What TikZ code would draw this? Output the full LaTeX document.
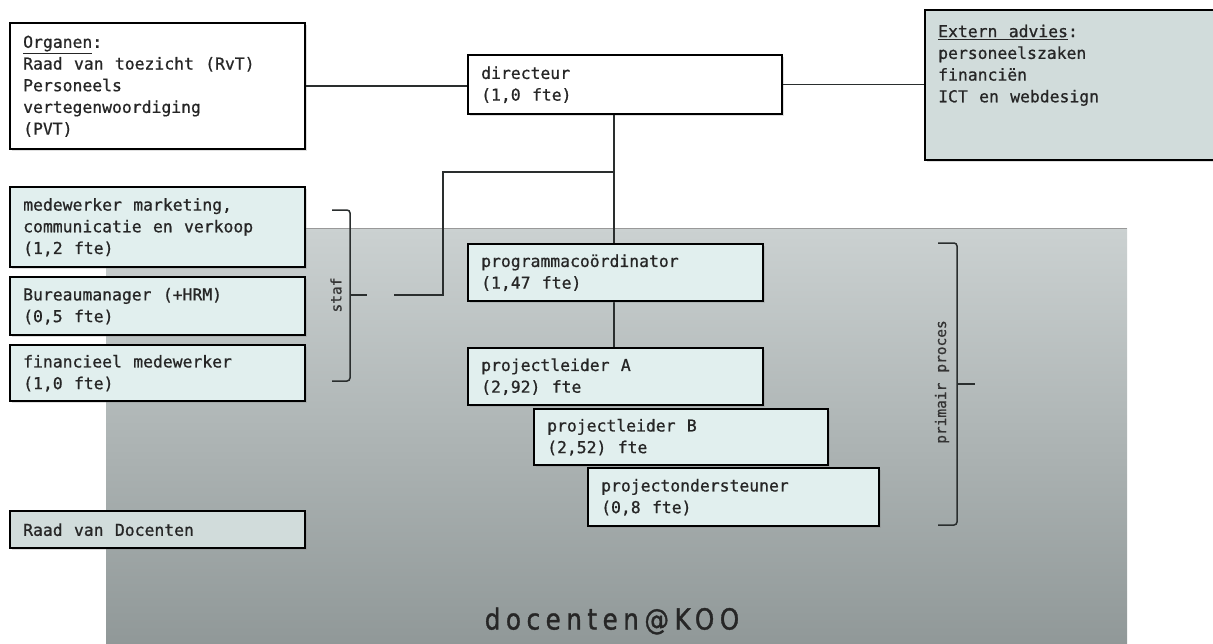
\documentclass[tikz,border=0pt]{standalone}
\usepackage{fontspec}
\usetikzlibrary{shadows}
\newfontfamily\monofont[FakeBold=0.8]{DejaVu Sans Mono}
\newfontfamily\koofont[LetterSpace=19,FakeStretch=0.85,FakeBold=1.2]{DejaVu Sans}
\newcommand{\ws}{\hspace{0.69em}}
\definecolor{bgtop}{HTML}{CBD1D1}
\definecolor{bgbot}{HTML}{8E9696}
\definecolor{boxfill}{HTML}{E1EFEE}
\definecolor{extfill}{HTML}{D1DCDB}
\definecolor{linecol}{HTML}{2A2E2E}
\begin{document}
\begin{tikzpicture}[x=1pt,y=-1pt,
  box/.style={draw=black, line width=2.4pt, anchor=north west, align=left,
    inner xsep=13pt, inner ysep=0pt, text=black!85,
    font=\monofont\fontsize{16.4}{21.7}\selectfont,
    drop shadow={shadow xshift=1.5pt, shadow yshift=-1.5pt, opacity=0.25}},
  conn/.style={draw=linecol, line width=1.5pt},
  bracket/.style={draw=linecol, line width=1.5pt, rounded corners=3pt},
  lbl/.style={font=\monofont\fontsize{14.5}{16}\selectfont, text=black!80}]
\useasboundingbox (0,0) rectangle (1213,643);
\fill[white] (0,0) rectangle (1213,643);
% background area
\shade[top color=bgtop, bottom color=bgbot] (106,228) rectangle (1127,660);
\draw[gray!80, line width=1pt] (106,228) -- (1127,228);

% nodes
\node[box, fill=white, text width=269pt, minimum height=126pt] (org) at (9,22)
  {\underline{Organen}:\\Raad\ws van\ws toezicht\ws (RvT)\\Personeels\\vertegenwoordiging\\(PVT)};
\node[box, fill=white, text width=288pt, minimum height=59pt] (dir) at (467,54)
  {directeur\\(1,0\ws fte)};
\node[box, fill=extfill, text width=270pt, minimum height=150pt] (ext) at (924,9)
  {\underline{Extern\ws advies}:\\personeelszaken\\financiën\\ICT\ws en\ws webdesign\\~\\~};
\node[box, fill=boxfill, text width=269pt, minimum height=80pt] (mkt) at (9,186)
  {medewerker\ws marketing,\\communicatie\ws en\ws verkoop\\(1,2\ws fte)};
\node[box, fill=boxfill, text width=269pt, minimum height=58pt] (bur) at (9,276)
  {Bureaumanager\ws (+HRM)\\(0,5\ws fte)};
\node[box, fill=boxfill, text width=269pt, minimum height=56pt] (fin) at (9,344)
  {financieel\ws medewerker\\(1,0\ws fte)};
\node[box, fill=extfill, text width=269pt, minimum height=37pt] (rvd) at (9,510)
  {Raad\ws van\ws Docenten};

% connectors
\coordinate (vx) at (614,0);
\coordinate (j) at (614,172);
\coordinate (sc) at (443,295);
\coordinate (stafend) at (394,295);
\draw[conn] (org.east) -- (org.east -| dir.west);
\draw[conn] (dir.east) -- (dir.east -| ext.west);
\draw[conn] (dir.south -| vx) -- (614,243);
\draw[conn] (j) -| (sc) -- (stafend);
\draw[conn] (614,300) -- (614,348);

\node[box, fill=boxfill, text width=269pt, minimum height=57pt] (prog) at (467,243)
  {programmacoördinator\\(1,47\ws fte)};
\node[box, fill=boxfill, text width=269pt, minimum height=57pt] (plA) at (467,347)
  {projectleider\ws A\\(2,92)\ws fte};
\node[box, fill=boxfill, text width=268pt, minimum height=56pt] (plB) at (533,408)
  {projectleider\ws B\\(2,52)\ws fte};
\node[box, fill=boxfill, text width=265pt, minimum height=58pt] (pos) at (587,467)
  {projectondersteuner\\(0,8\ws fte)};

% brackets
\draw[bracket] (332,210) -- (350,210) -- (350,381) -- (332,381);
\draw[conn] (350,295) -- (367,295);
\node[lbl, rotate=90] (staf) at (336,295) {staf};
\draw[bracket] (938,243) -- (957,243) -- (957,525) -- (938,525);
\draw[conn] (957,384) -- (975,384);
\node[lbl, rotate=90] (pp) at (942,382) {primair\ws proces};

% title
\node[font=\koofont\fontsize{29}{32}\selectfont, text=black!85] (koo) at (612,621) {docenten@KOO};
\end{tikzpicture}
\end{document}
